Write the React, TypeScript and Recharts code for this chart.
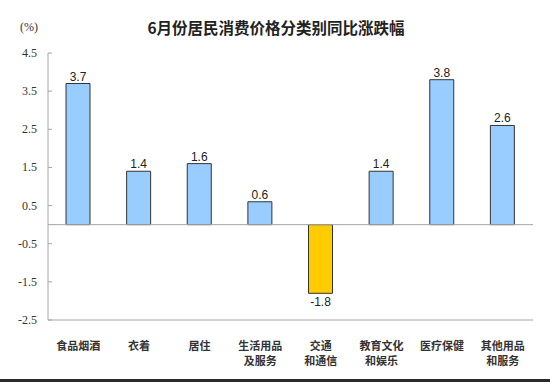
import React from 'react';
import { BarChart, Bar, XAxis, YAxis, Cell, LabelList, ReferenceLine } from 'recharts';

const categories = ['食品烟酒', '衣着', '居住', '生活用品\n及服务', '交通\n和通信', '教育文化\n和娱乐', '医疗保健', '其他用品\n和服务'];
const values = [3.7, 1.4, 1.6, 0.6, -1.8, 1.4, 3.8, 2.6];
const yTicks = [-2.5, -1.5, -0.5, 0.5, 1.5, 2.5, 3.5, 4.5];
const title = '6月份居民消费价格分类别同比涨跌幅';
const unit = '(%)';

const data = categories.map((name, i) => ({ name, value: values[i] }));

const BORDER = '#a6a6a6';

const YTick = (props: any) => {
  const { x, y, payload } = props;
  return (
    <g>
      <line x1={x + 11} x2={x + 15} y1={y} y2={y} stroke={BORDER} />
      <text x={x} y={y} dy={4} textAnchor="end" fontFamily="'Liberation Serif', 'Times New Roman', serif" fontSize={12} fill="#333">
        {payload.value.toFixed(1)}
      </text>
    </g>
  );
};

const XTick = (props: any) => {
  const { x, y, payload } = props;
  const lines = String(payload.value).split('\n');
  return (
    <text x={x} y={y} textAnchor="middle" fontFamily="'Noto Sans CJK SC', sans-serif" fontSize={11} fontWeight="bold" fill="#333">
      {lines.map((l, i) => (
        <tspan key={i} x={x} dy={i === 0 ? 22 : 15}>{l}</tspan>
      ))}
    </text>
  );
};

const ValueLabel = (props: any) => {
  const { x, y, width, height, value } = props;
  const neg = value < 0;
  const cx = x + width / 2;
  const top = Math.min(y, y + height);
  const bottom = Math.max(y, y + height);
  const ty = neg ? bottom + 13 : top - 3;
  return (
    <text x={cx} y={ty} textAnchor="middle" fontFamily="'Liberation Sans', Arial, sans-serif" fontSize={12} fill="#222">
      {value.toFixed(1)}
    </text>
  );
};

export default function App() {
  return (
    <div style={{ position: 'absolute', left: 0, top: 0, width: 550, height: 382, background: '#fff', overflow: 'hidden' }}>
      <div style={{ position: 'absolute', left: 0, top: 16, width: 552, textAlign: 'center', fontFamily: "'Noto Sans CJK SC', sans-serif", fontSize: 15.5, fontWeight: 'bold', color: '#222' }}>
        {title}
      </div>
      <div style={{ position: 'absolute', left: 20, top: 20, fontFamily: "'Liberation Serif', serif", fontSize: 12, color: '#333' }}>
        {unit}
      </div>
      <BarChart width={550} height={382} data={data} margin={{ top: 53, right: 17, left: 0, bottom: 0 }} barCategoryGap="0%">
        <XAxis dataKey="name" height={62} interval={0} tickLine={false} axisLine={{ stroke: BORDER }} tick={<XTick />} />
        <XAxis xAxisId="top" orientation="top" dataKey="name" height={0} tick={false} tickLine={false} axisLine={{ stroke: BORDER }} />
        <YAxis width={48} domain={[-2.5, 4.5]} ticks={yTicks} interval={0} tickSize={0} tickMargin={11} tickLine={false} axisLine={{ stroke: BORDER }} tick={<YTick />} />
        <YAxis yAxisId="right" orientation="right" width={0} domain={[-2.5, 4.5]} tick={false} tickLine={false} axisLine={{ stroke: BORDER }} />
        <ReferenceLine y={0} stroke={BORDER} strokeWidth={1} />
        <Bar dataKey="value" barSize={24} stroke="#333" strokeWidth={1} isAnimationActive={false}>
          {data.map((d, i) => (
            <Cell key={i} fill={d.value < 0 ? '#FFCC00' : '#99CCFF'} />
          ))}
          <LabelList dataKey="value" content={<ValueLabel />} />
        </Bar>
      </BarChart>
      <div style={{ position: 'absolute', left: 0, top: 379, width: 550, height: 3, background: '#2a2a2a' }} />
    </div>
  );
}
